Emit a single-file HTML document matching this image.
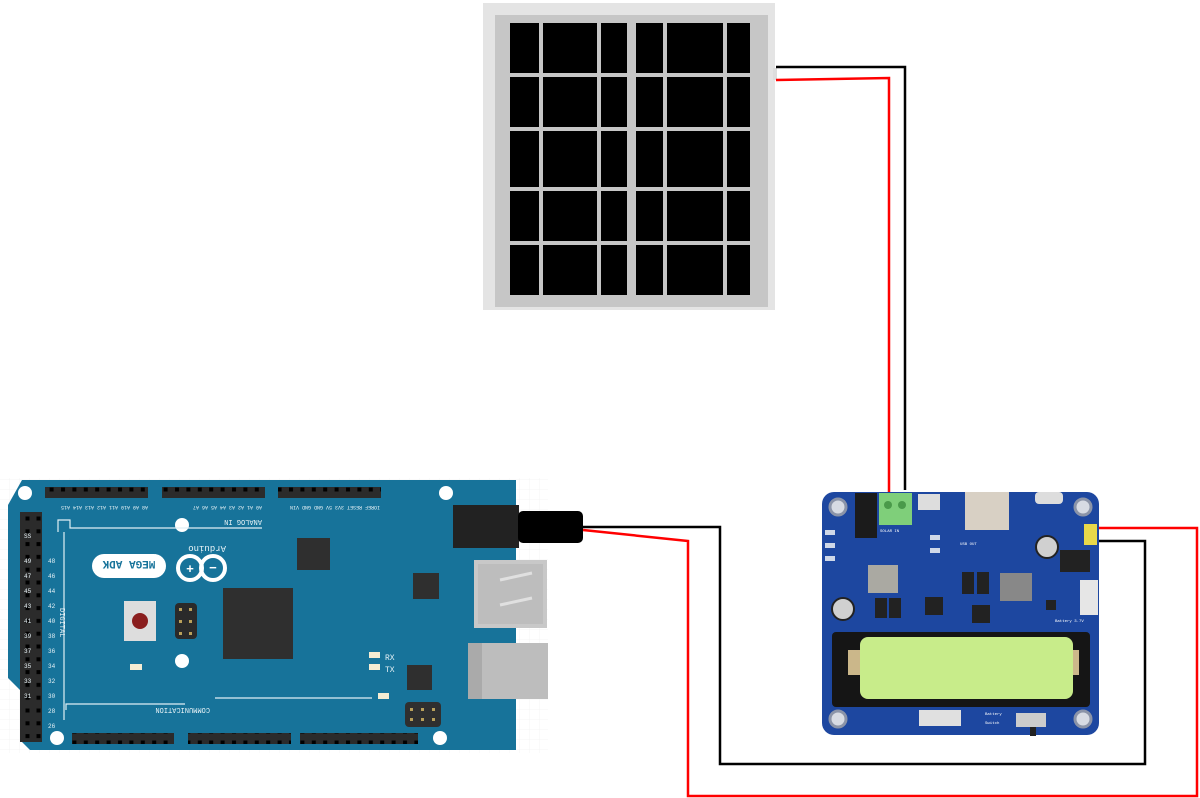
<!DOCTYPE html>
<html><head><meta charset="utf-8"><style>
html,body{margin:0;padding:0;background:#fff;}
svg{display:block}
text{font-family:"Liberation Mono",monospace;}
</style></head><body>
<svg width="1200" height="798" viewBox="0 0 1200 798" xmlns="http://www.w3.org/2000/svg">
<defs>
<pattern id="pinsH" x="0" y="0" width="11.4" height="11" patternUnits="userSpaceOnUse">
<rect width="11.4" height="11" fill="#2b2b2b"/><rect x="4" y="3.5" width="4" height="4" fill="#000"/>
</pattern>
<pattern id="pinsV" x="0" y="0" width="11" height="12.8" patternUnits="userSpaceOnUse">
<rect width="11" height="12.8" fill="#2b2b2b"/><rect x="3.5" y="4.5" width="4" height="4" fill="#000"/>
</pattern>
<pattern id="grid" width="10" height="10" patternUnits="userSpaceOnUse"><path d="M10 0V10H0" fill="none" stroke="#eee" stroke-width="0.6"/></pattern>
</defs>

<!-- solar panel -->
<rect x="483" y="3" width="292" height="307" fill="#e4e4e4"/>
<rect x="495" y="15" width="273" height="292" fill="#c6c6c6"/>
<g fill="#000">
<g id="row">
<rect x="510" y="23" width="29" height="50"/><rect x="543" y="23" width="54" height="50"/><rect x="601" y="23" width="26" height="50"/>
<rect x="636" y="23" width="27" height="50"/><rect x="667" y="23" width="56" height="50"/><rect x="727" y="23" width="23" height="50"/>
</g>
<use href="#row" y="54"/>
<use href="#row" y="108"/>
<rect x="510" y="131" width="29" height="56"/><rect x="543" y="131" width="54" height="56"/><rect x="601" y="131" width="26" height="56"/>
<rect x="636" y="131" width="27" height="56"/><rect x="667" y="131" width="56" height="56"/><rect x="727" y="131" width="23" height="56"/>
<use href="#row" y="168"/>
<use href="#row" y="222"/>
</g>
<rect x="773" y="68" width="4" height="12" fill="#ddd"/>

<!-- wires from solar -->
<polyline points="776,67 905,67 905,490" fill="none" stroke="#000" stroke-width="2.5"/>
<polyline points="776,80 889,78 889,492" fill="none" stroke="#f00" stroke-width="2.5"/>

<!-- arduino grid bg -->
<rect x="0" y="478" width="548" height="275" fill="url(#grid)"/>
<!-- arduino board -->
<path d="M22,480 H516 V750 H30 L20,740 V690 L8,678 V505 Z" fill="#17739a"/>
<g fill="#fff">
<circle cx="25" cy="493" r="7"/><circle cx="182" cy="525" r="7"/><circle cx="446" cy="493" r="7"/>
<circle cx="182" cy="661" r="7"/><circle cx="57" cy="738" r="7"/><circle cx="440" cy="738" r="7"/>
</g>
<!-- headers -->
<rect x="45" y="487" width="103" height="11" fill="url(#pinsH)"/>
<rect x="162" y="487" width="103" height="11" fill="url(#pinsH)"/>
<rect x="278" y="487" width="103" height="11" fill="url(#pinsH)"/>
<rect x="72" y="733" width="102" height="11" fill="url(#pinsH)"/>
<rect x="188" y="733" width="103" height="11" fill="url(#pinsH)"/>
<rect x="300" y="733" width="118" height="11" fill="url(#pinsH)"/>
<rect x="20" y="512" width="22" height="230" fill="url(#pinsV)"/>
<!-- silkscreen lines -->
<g stroke="#dfeff5" stroke-width="1.2" fill="none">
<polyline points="58,532 58,520 70,520 70,528 262,528"/>
<polyline points="64,532 64,720"/>
<polyline points="66,710 66,704 185,704"/>
<line x1="215" y1="698" x2="372" y2="698"/>
</g>
<g fill="#e8f3f7" font-size="5">
<text x="148" y="506" transform="rotate(180 148 506)">A8 A9 A10 A11 A12 A13 A14 A15</text>
<text x="262" y="506" transform="rotate(180 262 506)">A0 A1 A2 A3 A4 A5 A6 A7</text>
<text x="380" y="506" transform="rotate(180 380 506)">IOREF RESET 3V3 5V GND GND VIN</text>
<text x="262" y="520" font-size="7" transform="rotate(180 262 520)">ANALOG IN</text>
<text x="210" y="708" font-size="7" transform="rotate(180 210 708)">COMMUNICATION</text>
<text x="60" y="608" font-size="7" transform="rotate(90 60 608)">DIGITAL</text>
<text x="385" y="660" font-size="8">RX</text>
<text x="385" y="672" font-size="8">TX</text>
<text x="226" y="546" font-size="9" transform="rotate(180 226 546)">Arduino</text>
<text x="157" y="554" font-size="6" transform="rotate(180 157 554)">for Android</text>
</g>
<g fill="#e8f3f7" font-size="6">
<text x="24" y="538">SS</text><text x="24" y="563">49</text><text x="24" y="578">47</text><text x="24" y="593">45</text><text x="24" y="608">43</text><text x="24" y="623">41</text><text x="24" y="638">39</text><text x="24" y="653">37</text><text x="24" y="668">35</text><text x="24" y="683">33</text><text x="24" y="698">31</text>
<text x="48" y="563">48</text><text x="48" y="578">46</text><text x="48" y="593">44</text><text x="48" y="608">42</text><text x="48" y="623">40</text><text x="48" y="638">38</text><text x="48" y="653">36</text><text x="48" y="668">34</text><text x="48" y="683">32</text><text x="48" y="698">30</text><text x="48" y="713">28</text><text x="48" y="728">26</text>
</g>
<rect x="92" y="554" width="74" height="24" rx="12" fill="#fff"/>
<text x="129" y="571" font-size="11" fill="#17739a" font-weight="bold" text-anchor="middle" transform="rotate(180 129 566)">MEGA ADK</text>
<circle cx="190" cy="568" r="12" fill="none" stroke="#fff" stroke-width="4"/>
<circle cx="213" cy="568" r="12" fill="none" stroke="#fff" stroke-width="4"/>
<text x="190" y="573" font-size="13" fill="#fff" text-anchor="middle" font-weight="bold">+</text>
<text x="213" y="572" font-size="13" fill="#fff" text-anchor="middle" font-weight="bold">−</text>
<!-- reset button -->
<rect x="124" y="601" width="32" height="40" fill="#ddd"/>
<circle cx="140" cy="621" r="8" fill="#8a1e1e"/>
<rect x="175" y="603" width="22" height="36" rx="4" fill="#2a2a2a"/>
<g fill="#b9a05a"><rect x="179" y="608" width="3" height="3"/><rect x="189" y="608" width="3" height="3"/><rect x="179" y="620" width="3" height="3"/><rect x="189" y="620" width="3" height="3"/><rect x="179" y="632" width="3" height="3"/><rect x="189" y="632" width="3" height="3"/></g>
<rect x="130" y="664" width="12" height="6" fill="#f4ecd3"/>
<rect x="369" y="652" width="11" height="6" fill="#f4ecd3"/>
<rect x="369" y="664" width="11" height="6" fill="#f4ecd3"/>
<rect x="378" y="693" width="11" height="6" fill="#f4ecd3"/>
<!-- chips -->
<g fill="#2f2f2f">
<rect x="223" y="588" width="70" height="71"/>
<rect x="297" y="538" width="33" height="32"/>
<rect x="413" y="573" width="26" height="26"/>
<rect x="407" y="665" width="25" height="25"/>
<rect x="405" y="702" width="36" height="25" rx="4"/>
</g>
<g fill="#b9a05a"><rect x="410" y="708" width="3" height="3"/><rect x="421" y="708" width="3" height="3"/><rect x="432" y="708" width="3" height="3"/><rect x="410" y="718" width="3" height="3"/><rect x="421" y="718" width="3" height="3"/><rect x="432" y="718" width="3" height="3"/></g>
<!-- USB A -->
<rect x="474" y="560" width="73" height="68" fill="#c8c8c8"/>
<rect x="478" y="564" width="65" height="60" fill="#bdbdbd"/>
<g stroke="#e0e0e0" stroke-width="3"><line x1="500" y1="580" x2="532" y2="573"/><line x1="500" y1="605" x2="532" y2="598"/></g>
<!-- USB B -->
<rect x="468" y="643" width="80" height="56" fill="#bdbdbd"/>
<rect x="468" y="643" width="14" height="56" fill="#aaa"/>
<!-- power jack -->
<rect x="453" y="505" width="66" height="43" fill="#222"/>
<rect x="518" y="511" width="65" height="32" rx="5" fill="#000"/>

<!-- wires from jack -->
<polyline points="583,527 720,527 720,764 1145,764 1145,541 1093,541" fill="none" stroke="#000" stroke-width="2.5"/>
<polyline points="583,530 688,541 688,796 1197,796 1197,528 1093,528" fill="none" stroke="#f00" stroke-width="2.5"/>

<!-- power board -->
<rect x="822" y="492" width="277" height="243" rx="12" fill="#1d47a0"/>
<g fill="#d7dbe3" stroke="#8b94a8" stroke-width="3">
<circle cx="838" cy="507" r="8"/><circle cx="1083" cy="507" r="8"/><circle cx="838" cy="719" r="8"/><circle cx="1083" cy="719" r="8"/>
</g>
<rect x="855" y="493" width="22" height="45" fill="#1b1b1b"/>
<rect x="879" y="493" width="33" height="32" fill="#7fcf7a"/>
<circle cx="888" cy="505" r="4" fill="#4a9a4a"/><circle cx="902" cy="505" r="4" fill="#4a9a4a"/>
<rect x="918" y="494" width="22" height="16" fill="#ddd"/>
<rect x="965" y="492" width="44" height="38" fill="#d8d0c4"/>
<rect x="1035" y="492" width="28" height="12" rx="4" fill="#ddd"/>
<rect x="1084" y="524" width="13" height="21" fill="#e8d84a"/>
<rect x="868" y="565" width="30" height="28" fill="#aaa9a2"/>
<rect x="1000" y="573" width="32" height="28" fill="#888"/>
<circle cx="1047" cy="547" r="11" fill="#d0d0d0" stroke="#222" stroke-width="2"/>
<circle cx="843" cy="609" r="11" fill="#d0d0d0" stroke="#222" stroke-width="2"/>
<g fill="#222">
<rect x="875" y="598" width="12" height="20"/><rect x="889" y="598" width="12" height="20"/>
<rect x="962" y="572" width="12" height="22"/><rect x="977" y="572" width="12" height="22"/>
<rect x="925" y="597" width="18" height="18"/><rect x="972" y="605" width="18" height="18"/>
<rect x="1060" y="550" width="30" height="22"/><rect x="1046" y="600" width="10" height="10"/>
</g>
<rect x="1080" y="580" width="18" height="35" fill="#e6e6e6"/>
<g fill="#cfd8e8"><rect x="825" y="530" width="10" height="5"/><rect x="825" y="543" width="10" height="5"/><rect x="825" y="556" width="10" height="5"/><rect x="930" y="535" width="10" height="5"/><rect x="930" y="548" width="10" height="5"/></g>
<!-- battery holder -->
<rect x="832" y="632" width="258" height="75" rx="4" fill="#151515"/>
<rect x="848" y="650" width="14" height="25" fill="#cbb78a"/>
<rect x="1065" y="650" width="14" height="25" fill="#cbb78a"/>
<rect x="860" y="637" width="213" height="62" rx="8" fill="#c8ec8a"/>
<rect x="919" y="710" width="42" height="16" fill="#e0e0e0"/>
<rect x="1016" y="713" width="30" height="14" fill="#ccc"/>
<rect x="1030" y="727" width="6" height="9" fill="#222"/>
<g fill="#fff" font-size="4" font-family="Liberation Sans,sans-serif">
<text x="880" y="532">SOLAR IN</text><text x="960" y="545">USB OUT</text><text x="985" y="715">Battery</text><text x="985" y="724">Switch</text><text x="1055" y="622">Battery 3.7V</text>
</g>
</svg>
</body></html>
